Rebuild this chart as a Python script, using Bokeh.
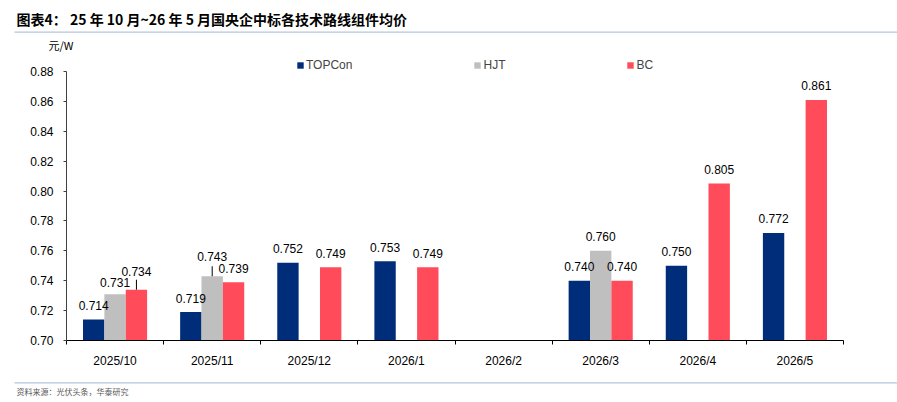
from bokeh.plotting import figure
from bokeh.models import (Range1d, FixedTicker, ColumnDataSource, LabelSet, Label,
                          Legend, LegendItem, BoxAnnotation, NumeralTickFormatter)
from bokeh.core.properties import value
from bokeh.transform import dodge
from bokeh.embed import file_html
from bokeh.resources import INLINE

# ---------------- data ----------------
months = ["2025/10", "2025/11", "2025/12", "2026/1", "2026/2", "2026/3", "2026/4", "2026/5"]
topcon = [0.714, 0.719, 0.752, 0.753, None, 0.740, 0.750, 0.772]
hjt = [0.731, 0.743, None, None, None, 0.760, None, None]
bc = [0.734, 0.739, 0.749, 0.749, None, 0.740, 0.805, 0.861]
series_names = ["TOPCon", "HJT", "BC"]
y_ticks = [0.70, 0.72, 0.74, 0.76, 0.78, 0.80, 0.82, 0.84, 0.86, 0.88]
y_min, y_max = 0.70, 0.88
title_text = "图表4：  25 年 10 月~26 年 5 月国央企中标各技术路线组件均价"
unit_text = "元/W"
source_text = "资料来源：光伏头条，华泰研究"

# ---------------- styles / layout (pixels) ----------------
W, H = 897, 402
plot_left, plot_right, plot_top, plot_bottom = 66, 843, 71, 340
colors = ["#002D79", "#BFBFBF", "#FF4B5A"]
offsets = [-0.22, 0.0, 0.22]
bar_w = 0.22
label_off_default = 14
label_off_special = {("BC", 0): 18, ("HJT", 0): 12, ("HJT", 1): 20}
leaders = {("BC", 0), ("HJT", 1)}
FONT = "Liberation Sans"
CJK = "Noto Sans CJK SC"
sep_color = "#B4C6DC"

n = len(months)
cat_px = (plot_right - plot_left) / n
x0_data = -0.5
x_start = x0_data - plot_left / cat_px
x_end = (n - 0.5) + (W - plot_right) / cat_px
px_per_unit = (plot_bottom - plot_top) / (y_max - y_min)
y_start = y_min - (H - plot_bottom) / px_per_unit
y_end = y_max + plot_top / px_per_unit

p = figure(width=W, height=H, x_range=Range1d(x_start, x_end), y_range=Range1d(y_start, y_end),
           output_backend="svg", toolbar_location=None, min_border=0)
p.outline_line_color = None
p.grid.visible = False

renderers = []
for name, vals, col, off in zip(series_names, [topcon, hjt, bc], colors, offsets):
    xs, ys, txt, yoff = [], [], [], []
    lx0, ly0, ly1 = [], [], []
    for i, v in enumerate(vals):
        if v is None:
            continue
        xs.append(i)
        ys.append(v)
        txt.append("%.3f" % v)
        yoff.append(label_off_special.get((name, i), label_off_default))
        if (name, i) in leaders:
            lx0.append(i)
            ly0.append(v)
            ly1.append(v + 10 / px_per_unit)
    src = ColumnDataSource(dict(x=xs, y=ys, txt=txt, yoff=yoff))
    r = p.vbar(x=dodge("x", off, range=p.x_range), top="y", bottom=y_min, width=bar_w,
               source=src, fill_color=col, line_color=None)
    renderers.append(r)
    p.add_layout(LabelSet(x=dodge("x", off, range=p.x_range), y="y", text="txt",
                          y_offset="yoff", source=src, text_align="center",
                          text_baseline="middle", text_font=value(FONT),
                          text_font_size=value("12px"), text_color="#000000"))
    if lx0:
        lsrc = ColumnDataSource(dict(x=lx0, y0=ly0, y1=ly1))
        p.segment(x0=dodge("x", off, range=p.x_range), x1=dodge("x", off, range=p.x_range),
                  y0="y0", y1="y1", source=lsrc, line_color="#000000", line_width=1)

# axes (kept in their side panels, drawn at fixed data locations)
xa = p.xaxis[0]
xa.fixed_location = y_min
xa.bounds = (x0_data, n - 0.5)
xa.ticker = FixedTicker(ticks=list(range(n)),
                        minor_ticks=[i - 0.5 for i in range(n + 1)])
xa.major_label_overrides = {i: m for i, m in enumerate(months)}
xa.major_tick_line_color = None
xa.major_tick_out = 0
xa.major_tick_in = 0
xa.minor_tick_line_color = "#000000"
xa.minor_tick_out = 4
xa.minor_tick_in = 0
xa.axis_line_color = "#000000"
xa.major_label_standoff = 9
xa.major_label_text_font = FONT
xa.major_label_text_font_size = "12px"
xa.major_label_text_color = "#000000"

ya = p.yaxis[0]
ya.fixed_location = x0_data
ya.bounds = (y_min, y_max)
ya.ticker = FixedTicker(ticks=y_ticks, minor_ticks=[])
ya.formatter = NumeralTickFormatter(format="0.00")
ya.axis_line_color = "#404040"
ya.major_tick_line_color = "#404040"
ya.major_tick_out = 3
ya.major_tick_in = 0
ya.minor_tick_line_color = None
ya.major_label_standoff = 10
ya.major_label_text_font = FONT
ya.major_label_text_font_size = "12px"
ya.major_label_text_color = "#000000"

# title, separators, unit, source (screen units from bottom-left)
p.add_layout(Label(x=16, y=H - 18, x_units="screen", y_units="screen", text=title_text,
                   text_font=CJK, text_font_style="bold", text_font_size="14px",
                   text_baseline="middle", text_color="#000000"))
p.add_layout(BoxAnnotation(left=14, right=W, bottom=H - 32.3, top=H - 31,
                           left_units="screen", right_units="screen",
                           top_units="screen", bottom_units="screen",
                           fill_color=sep_color, fill_alpha=1, line_color=None))
p.add_layout(Label(x=48, y=H - 44, x_units="screen", y_units="screen",
                   text=unit_text, text_font=CJK, text_font_size="11px",
                   text_baseline="middle", text_color="#000000"))
p.add_layout(BoxAnnotation(left=14, right=W, bottom=H - 383, top=H - 381.7,
                           left_units="screen", right_units="screen",
                           top_units="screen", bottom_units="screen",
                           fill_color=sep_color, fill_alpha=1, line_color=None))
p.add_layout(Label(x=16, y=H - 390.5, x_units="screen", y_units="screen", text=source_text,
                   text_font=CJK, text_font_size="8px", text_baseline="middle",
                   text_color="#595959"))

# legend
legend = Legend(items=[LegendItem(label=nm, renderers=[r]) for nm, r in zip(series_names, renderers)],
                orientation="horizontal", location=(296, H - 72),
                padding=0, margin=0, spacing=121, glyph_width=8, glyph_height=8,
                label_standoff=2, label_height=12, label_text_font=FONT,
                label_text_font_size="12px", border_line_color=None,
                background_fill_alpha=0)
p.add_layout(legend)

open("out.html", "w").write(file_html(p, INLINE))
